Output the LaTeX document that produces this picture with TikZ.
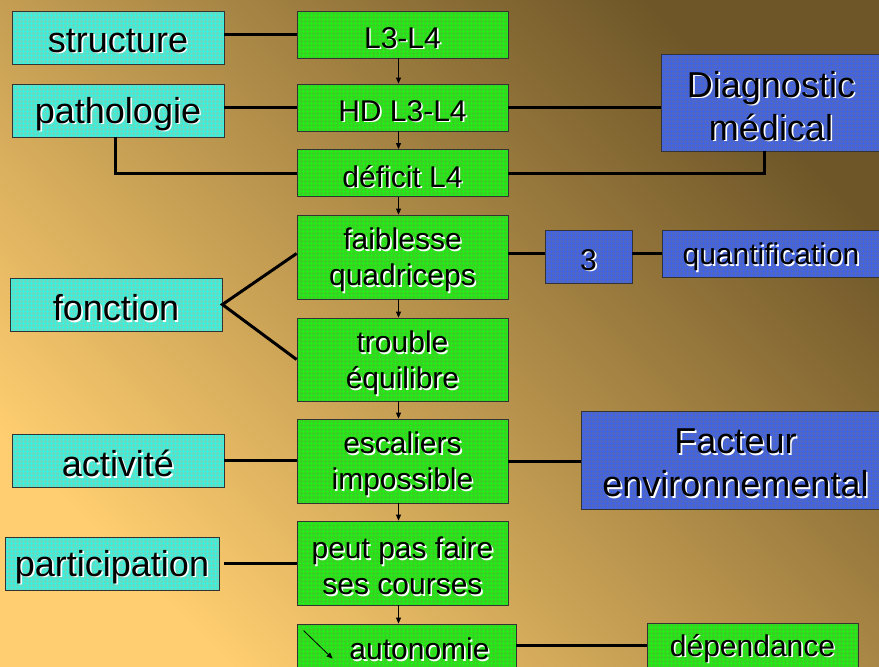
\documentclass[tikz,border=0pt]{standalone}
\usepackage{fontspec}
\setmainfont{Liberation Sans}
\usetikzlibrary{arrows.meta,patterns.meta}
\definecolor{bgdark}{HTML}{6E5628}
\definecolor{bglight}{HTML}{FFCE70}
\definecolor{cyanfill}{HTML}{62DCC2}
\definecolor{cyangrid}{HTML}{20FFF2}
\definecolor{greenfill}{HTML}{3AD222}
\definecolor{greengrid}{HTML}{12FF12}
\definecolor{bluefill}{HTML}{4E66C4}
\definecolor{bluegrid}{HTML}{3A62FF}
\newcommand{\shd}[1]{\raisebox{-4pt}[\height][\depth]{\makebox[0pt][l]{\hspace{1.6pt}\raisebox{-1.6pt}{\color{white}#1}}#1}}
\tikzset{
	box/.style={draw=black!80, line width=0.8pt, align=center, inner sep=0pt, text=black},
	cbox/.style={box, preaction={fill=cyanfill}, pattern={Hatch[distance=4pt, line width=0.6pt]}, pattern color=cyangrid, minimum width=212pt, minimum height=53pt, font=\fontsize{36}{43}\selectfont},
	gbox/.style={box, preaction={fill=greenfill}, pattern={Hatch[distance=4pt, line width=0.6pt]}, pattern color=greengrid, minimum width=211pt, minimum height=47pt, font=\fontsize{30}{36}\selectfont},
	bbox/.style={box, preaction={fill=bluefill}, pattern={Hatch[distance=4pt, line width=0.6pt]}, pattern color=bluegrid, minimum height=47pt, font=\fontsize{30}{36}\selectfont},
	link/.style={line width=3pt, black},
	arr/.style={line width=0.8pt, black, -{Triangle[length=6pt, width=5pt]}}
}
\begin{document}
\begin{tikzpicture}[x=1pt, y=-1pt]
		\path[use as bounding box, clip] (0,0) rectangle (879,667);
		\shade[top color=bgdark, bottom color=bglight, shading angle=-45] (0,0) rectangle (879,667);
		\node[cbox] (struct) at (118,37.5) {\shd{structure}};
		\node[cbox] (patho) at (118,110.5) {\shd{pathologie}};
		\node[cbox] (fonct) at (116,304.5) {\shd{fonction}};
		\node[cbox] (activ) at (118,460.5) {\shd{activit\'e}};
		\node[cbox, minimum width=214pt] (partic) at (112,563.5) {\shd{participation}};
		\node[gbox] (l34) at (402.5,34.5) {\shd{L3-L4}};
		\node[gbox] (hd) at (402.5,107.5) {\shd{HD L3-L4}};
		\node[gbox] (deficit) at (402.5,173) {\shd{d\'eficit L4}};
		\node[gbox, minimum height=84pt] (faib) at (402.5,257) {\shd{faiblesse}\\\shd{quadriceps}};
		\node[gbox, minimum height=83pt] (troub) at (402.5,359.5) {\shd{trouble}\\\shd{\'equilibre}};
		\node[gbox, minimum height=84pt] (escal) at (402.5,461) {\shd{escaliers}\\\shd{impossible}};
		\node[gbox, minimum height=84pt] (peut) at (402.5,563) {\shd{peut pas faire}\\\shd{ses courses}};
		\node[gbox, minimum width=219pt, minimum height=44pt] (auton) at (406.5,646) {\hspace*{26pt}\shd{autonomie}};
		\node[gbox, minimum height=44pt] (depend) at (752.5,645) {\shd{d\'ependance}};
		\node[bbox, minimum width=220pt, minimum height=97pt, font=\fontsize{36}{43}\selectfont] (diag) at (771,102.5) {\shd{Diagnostic}\\\shd{m\'edical}};
		\node[bbox, minimum width=87pt, minimum height=53pt] (three) at (588.5,256.5) {\shd{3}};
		\node[bbox, minimum width=218pt] (quant) at (771,253.5) {\shd{quantification}};
		\node[bbox, minimum width=309pt, minimum height=98pt, font=\fontsize{36}{43}\selectfont] (fact) at (735.5,460) {\shd{Facteur}\\\shd{environnemental}};
		\draw[link] (struct.east |- l34.west) -- (l34.west);
		\draw[link] (patho.east |- hd.west) -- (hd.west);
		\draw[link] ([xshift=-3pt]patho.south) |- (deficit.west);
		\draw[link] (hd.east) -- (hd.east -| diag.west);
		\draw[link] ([xshift=-7pt]diag.south) |- (deficit.east);
		\draw[link, line join=miter] (faib.west |- quant.west) -- (fonct.east) -- (troub.west);
		\draw[link] (faib.east |- quant.west) -- (three.west |- quant.west);
		\draw[link] (three.east |- quant.west) -- (quant.west);
		\draw[link] (activ.east) -- (activ.east -| escal.west);
		\draw[link] (escal.east) -- (escal.east -| fact.west);
		\draw[link] ([xshift=5pt]partic.east) -- (partic.east -| peut.west);
		\draw[link] (auton.east |- depend.west) -- (depend.west);
		\foreach \a/\b in {l34/hd, hd/deficit, deficit/faib, faib/troub, troub/escal, escal/peut}
			\draw[arr] ([xshift=-4pt]\a.south) -- ([xshift=-4pt]\b.north);
		\draw[arr] ([xshift=-4pt]peut.south) -- ([xshift=-4pt]peut.south |- auton.north);
		\draw[arr] ([shift={(7,7)}]auton.north west) -- ++(29,28);
\end{tikzpicture}
\end{document}
